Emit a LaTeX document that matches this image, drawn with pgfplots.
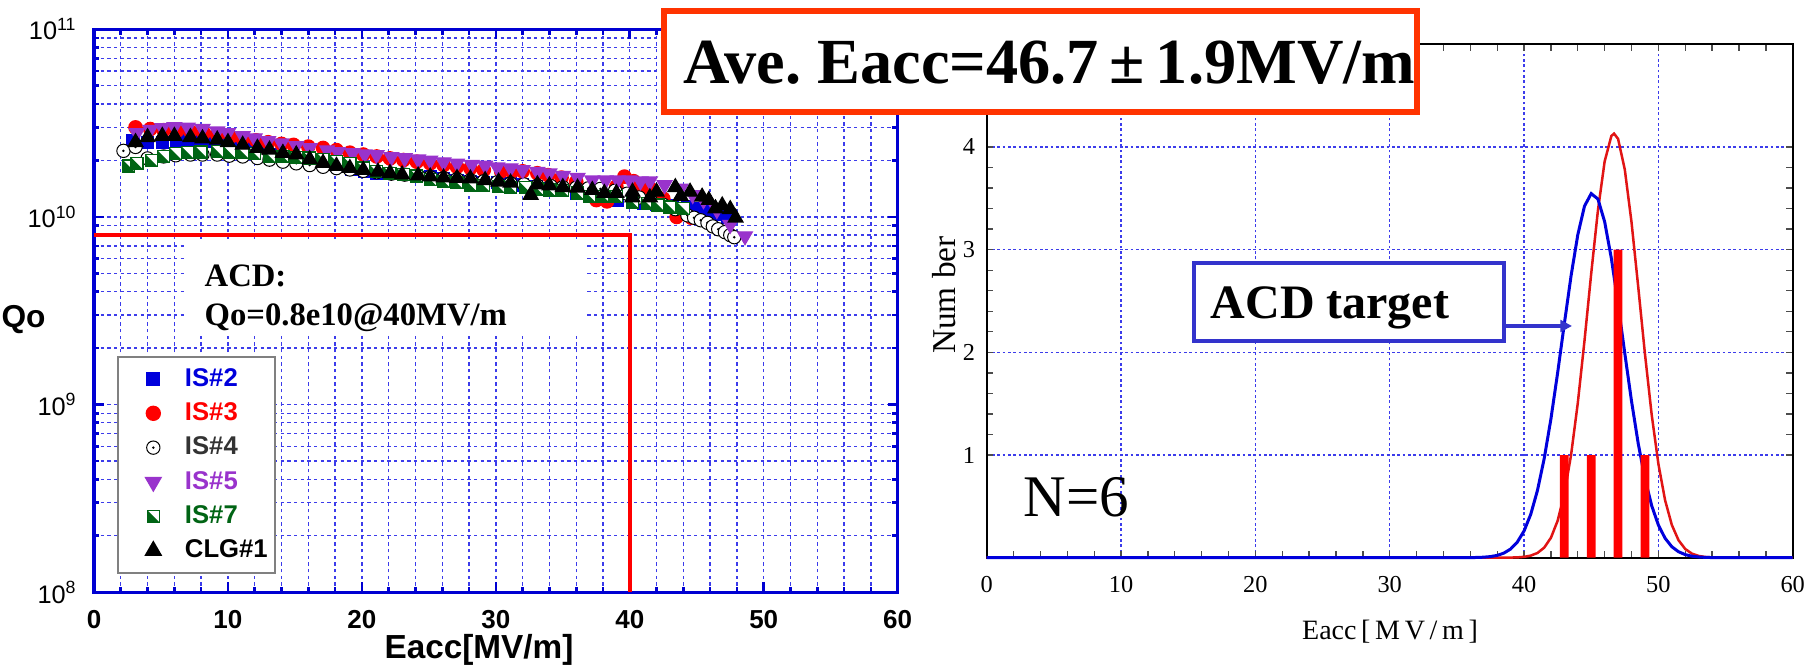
\documentclass[border=0pt]{standalone}
\usepackage{fontspec}
\setmainfont{Liberation Serif}
\newfontfamily\arial{Liberation Sans}
\usepackage{pgfplots}
\pgfplotsset{compat=1.18}
\usetikzlibrary{arrows.meta}

\definecolor{axblue}{RGB}{0,0,210}
\definecolor{gridblue}{RGB}{60,60,235}
\definecolor{is2}{RGB}{0,0,220}
\definecolor{is3}{RGB}{255,0,0}
\definecolor{is4}{RGB}{51,51,51}
\definecolor{is5}{RGB}{153,51,204}
\definecolor{is7}{RGB}{0,100,20}
\definecolor{boxred}{RGB}{255,51,0}
\definecolor{tgtblue}{RGB}{51,51,204}
\definecolor{curvered}{RGB}{225,20,20}

% open circle with a centre dot
\pgfdeclareplotmark{odot}{%
  \pgfpathcircle{\pgfpointorigin}{\pgfplotmarksize}%
  \pgfusepathqfillstroke
  \pgfpathcircle{\pgfpointorigin}{0.1\pgfplotmarksize}%
  \pgfusepathqstroke
}
% square, half filled along the diagonal
\pgfdeclareplotmark{halfsq}{%
  \pgfpathrectangle{\pgfqpoint{-\pgfplotmarksize}{-\pgfplotmarksize}}{\pgfqpoint{2\pgfplotmarksize}{2\pgfplotmarksize}}%
  \pgfusepathqfillstroke
  \pgfscope
  \pgfsetfillcolor{is7}%
  \pgfpathmoveto{\pgfqpoint{-\pgfplotmarksize}{-\pgfplotmarksize}}%
  \pgfpathlineto{\pgfqpoint{\pgfplotmarksize}{-\pgfplotmarksize}}%
  \pgfpathlineto{\pgfqpoint{-\pgfplotmarksize}{\pgfplotmarksize}}%
  \pgfpathclose
  \pgfusepathqfill
  \endpgfscope
}

\begin{document}
\begin{tikzpicture}
\useasboundingbox (0,0) rectangle (546pt,199.5pt);

%---------------- Qo vs Eacc ----------------
\begin{axis}[
  at={(28.2pt,21.81pt)}, anchor=south west,
  scale only axis, width=241.11pt, height=168.9pt,
  xmin=0, xmax=60, ymode=log, ymin=1e8, ymax=1e11,
  xtick={0,10,20,30,40,50,60},
  xticklabels={0,10,20,30,40,50,60},
  minor x tick num=4,
  ytick={1e8,1e9,1e10,1e11},
  yticklabels={10\textsuperscript{8},10\textsuperscript{9},10\textsuperscript{10},10\textsuperscript{11}},
  minor ytick={2e8,3e8,4e8,5e8,6e8,7e8,8e8,9e8,2e9,3e9,4e9,5e9,6e9,7e9,8e9,9e9,2e10,3e10,4e10,5e10,6e10,7e10,8e10,9e10},
  grid=both,
  major grid style={gridblue, line width=0.4pt, dash pattern=on 1pt off 1pt},
  minor grid style={gridblue, line width=0.4pt, dash pattern=on 1pt off 1pt},
  axis line style={axblue, line width=1pt},
  tick style={axblue, line width=0.8pt},
  major tick length=3pt, minor tick length=1.6pt,
  tick align=inside,
  xticklabel style={font=\arial\bfseries\fontsize{7.8}{9}\selectfont, yshift=-2pt},
  yticklabel style={font=\arial\fontsize{7.6}{9}\selectfont, xshift=-1.5pt},
  clip=false,
  legend cell align=left,
  legend image code/.code={%
    \path[draw=none, fill=none] (-8.5pt,0pt) -- (8.5pt,0pt);
    \draw[#1] plot coordinates {(0pt,0pt)};},
  legend style={at={(0.0286,0.4197)}, anchor=north west, draw=gray, line width=0.6pt,
    fill=white, inner xsep=2.1pt, inner ysep=3pt, row sep=3.1pt, column sep=1pt,
    font=\arial\bfseries\fontsize{7.7}{9}\selectfont,
    nodes={inner sep=0pt, text height=5.8pt, text depth=1.4pt}},
]
\addplot[forget plot, is3, line width=1.1pt] coordinates {(0,8e9) (40,8e9) (40,1e8)};

\addplot[only marks, mark=square*, mark size=1.8pt, color=is2] coordinates {
(2.9,2.55e10) (4.0,2.5e10) (5.1,2.5e10) (6.2,2.57e10) (7.2,2.57e10) (8.2,2.52e10)
(9.2,2.45e10) (10.2,2.38e10) (11.2,2.3e10) (12.2,2.22e10) (13.2,2.15e10) (14.2,2.08e10)
(15.2,2.0e10) (16.2,1.95e10) (17.2,1.9e10) (18.2,1.85e10) (19.2,1.8e10) (20.2,1.75e10)
(21.1,1.71e10) (22.1,1.7e10) (23.1,1.68e10) (24.1,1.66e10) (25.1,1.63e10) (26.1,1.6e10)
(27.1,1.57e10) (28.1,1.54e10) (29.1,1.53e10) (30.1,1.52e10) (31.1,1.5e10) (32.0,1.48e10)
(33.0,1.45e10) (34.0,1.42e10) (35.0,1.39e10) (36.0,1.34e10) (37.0,1.29e10) (38.0,1.26e10)
(39.1,1.23e10) (40.2,1.2e10) (41.0,1.18e10) (42.0,1.17e10) (43.2,1.15e10) (44.3,1.13e10)
(45.0,1.11e10) (45.9,1.07e10) (46.7,1.03e10) (47.3,1.0e10)};
\addlegendentry{\textcolor{is2}{IS\#2}}

\addplot[only marks, mark=*, mark size=2pt, color=is3] coordinates {
(3.1,3.0e10) (4.2,2.94e10) (5.2,2.9e10) (6.2,2.88e10) (7.2,2.85e10) (8.2,2.8e10)
(9.2,2.74e10) (10.2,2.68e10) (11.1,2.62e10) (12.1,2.56e10) (13.0,2.5e10) (14.0,2.45e10)
(14.9,2.42e10) (16.0,2.37e10) (17.1,2.33e10) (18.1,2.27e10) (19.1,2.2e10) (20.1,2.15e10)
(21.1,2.1e10) (22.1,2.05e10) (23.1,2.01e10) (24.1,1.97e10) (25.1,1.93e10) (26.1,1.89e10)
(27.1,1.85e10) (28.1,1.82e10) (29.1,1.78e10) (30.4,1.75e10) (31.2,1.75e10) (32.0,1.75e10)
(33.1,1.71e10) (33.9,1.67e10) (34.9,1.62e10) (36.0,1.54e10) (36.7,1.39e10) (37.5,1.23e10)
(38.3,1.21e10) (39.0,1.45e10) (39.6,1.64e10) (40.3,1.55e10) (40.9,1.43e10) (41.7,1.39e10)
(42.5,1.25e10) (43.5,1.0e10) (44.6,0.99e10)};
\addlegendentry{\textcolor{is3}{IS\#3}}

\addplot[only marks, mark=odot, mark size=2pt, mark options={draw=black, fill=white, line width=0.3pt}] coordinates {
(2.2,2.25e10) (3.1,2.36e10) (4.0,2.05e10) (5.2,2.1e10) (6.1,2.13e10) (7.2,2.15e10)
(8.1,2.15e10) (9.2,2.15e10) (10.1,2.12e10) (11.1,2.1e10) (12.2,2.06e10) (13.1,2.02e10)
(14.1,1.97e10) (15.1,1.93e10) (16.1,1.89e10) (17.1,1.85e10) (18.1,1.82e10) (19.1,1.79e10)
(20.1,1.76e10) (21.1,1.73e10) (22.2,1.7e10) (23.2,1.68e10) (24.2,1.66e10) (25.1,1.63e10)
(26.1,1.61e10) (27.1,1.59e10) (28.1,1.57e10) (29.1,1.55e10) (30.1,1.53e10) (31.1,1.51e10)
(32.1,1.49e10) (33.1,1.47e10) (34.1,1.46e10) (35.0,1.44e10) (36.0,1.43e10) (36.9,1.42e10)
(37.8,1.41e10) (38.9,1.38e10) (39.8,1.33e10) (40.7,1.27e10) (41.6,1.21e10) (42.5,1.16e10)
(43.4,1.1e10) (44.3,1.02e10) (44.8,0.99e10) (45.3,0.96e10) (45.8,0.93e10) (46.2,0.89e10)
(46.6,0.86e10) (47.1,0.83e10) (47.5,0.8e10) (47.8,0.78e10)};
\addlegendentry{\textcolor{is4}{IS\#4}}

\addplot[only marks, mark=triangle*, mark size=2.5pt, color=is5, mark options={rotate=180}] coordinates {
(3.2,2.8e10) (4.2,2.92e10) (5.1,2.98e10) (6.0,3.02e10) (7.0,3.0e10) (8.1,2.95e10)
(9.2,2.86e10) (10.0,2.8e10) (11.1,2.7e10) (12.0,2.63e10) (13.0,2.54e10) (14.0,2.47e10)
(15.1,2.39e10) (16.1,2.33e10) (17.4,2.27e10) (18.2,2.22e10) (19.3,2.19e10) (20.2,2.16e10)
(21.1,2.14e10) (22.2,2.09e10) (23.2,2.06e10) (24.2,2.03e10) (25.1,2.0e10) (26.1,1.96e10)
(27.1,1.93e10) (28.2,1.9e10) (29.2,1.88e10) (30.1,1.84e10) (31.1,1.82e10) (32.0,1.78e10)
(33.1,1.74e10) (34.0,1.71e10) (35.0,1.66e10) (36.1,1.62e10) (37.2,1.57e10) (38.2,1.57e10)
(39.1,1.57e10) (40.0,1.57e10) (40.8,1.55e10) (41.5,1.55e10) (42.6,1.48e10) (43.8,1.42e10)
(44.7,1.31e10) (45.5,1.23e10) (46.5,1.09e10) (47.5,0.91e10) (48.6,0.79e10)};
\addlegendentry{\textcolor{is5}{IS\#5}}

\addplot[only marks, mark=halfsq, mark size=1.8pt, mark options={draw=is7, fill=white, line width=0.4pt}] coordinates {
(2.6,1.87e10) (3.2,1.93e10) (4.3,2.0e10) (5.2,2.1e10) (6.1,2.17e10) (7.0,2.2e10)
(8.0,2.22e10) (9.2,2.24e10) (10.1,2.22e10) (11.1,2.2e10) (12.0,2.17e10) (13.1,2.1e10)
(14.1,2.1e10) (15.1,2.08e10) (16.1,2.06e10) (17.1,2.03e10) (18.1,1.97e10) (19.1,1.93e10)
(20.1,1.82e10) (21.1,1.74e10) (22.1,1.71e10) (23.1,1.68e10) (24.1,1.65e10) (25.1,1.58e10)
(26.1,1.55e10) (27.1,1.52e10) (28.1,1.48e10) (29.1,1.47e10) (30.2,1.45e10) (31.1,1.44e10)
(32.2,1.43e10) (33.1,1.41e10) (34.0,1.39e10) (35.0,1.38e10) (36.1,1.34e10) (37.0,1.29e10)
(38.0,1.29e10) (39.0,1.28e10) (40.2,1.2e10) (41.3,1.18e10) (42.1,1.16e10) (43.0,1.13e10)
(44.0,1.11e10)};
\addlegendentry{\textcolor{is7}{IS\#7}}

\addplot[only marks, mark=triangle*, mark size=2.5pt, color=black] coordinates {
(3.1,2.5e10) (4.0,2.66e10) (5.1,2.7e10) (6.0,2.7e10) (7.2,2.66e10) (8.1,2.62e10)
(9.2,2.58e10) (10.0,2.5e10) (11.1,2.42e10) (12.2,2.33e10) (13.1,2.28e10) (14.1,2.19e10)
(15.1,2.15e10) (16.1,2.03e10) (17.1,1.94e10) (18.1,1.87e10) (19.1,1.82e10) (20.1,1.78e10)
(21.2,1.74e10) (22.1,1.71e10) (23.0,1.68e10) (24.2,1.66e10) (25.1,1.64e10) (26.1,1.62e10)
(27.1,1.61e10) (28.1,1.6e10) (29.2,1.57e10) (30.2,1.54e10) (31.1,1.52e10) (32.6,1.31e10)
(33.1,1.49e10) (34.0,1.47e10) (35.0,1.44e10) (36.1,1.43e10) (37.2,1.39e10) (38.1,1.34e10)
(39.0,1.34e10) (40.2,1.36e10) (40.2,1.27e10) (41.5,1.27e10) (42.0,1.36e10) (43.4,1.44e10)
(43.8,1.29e10) (44.5,1.36e10) (45.4,1.28e10) (45.9,1.23e10) (46.4,1.11e10) (46.9,1.15e10)
(47.5,1.1e10) (47.9,0.99e10)};
\addlegendentry{CLG\#1}
\end{axis}

% labels and note of the left panel
\node[font=\arial\bfseries\fontsize{9.5}{11}\selectfont, anchor=base, inner sep=0pt] at (7.05pt,101.3pt) {Qo};
\node[font=\arial\bfseries\fontsize{10}{12}\selectfont, anchor=base, inner sep=0pt] at (143.7pt,2pt) {Eacc[MV/m]};
\fill[white] (55.5pt,99pt) rectangle (176.1pt,127.5pt);
\node[font=\bfseries\fontsize{9.8}{11}\selectfont, anchor=base west, inner sep=0pt] at (61.2pt,113.6pt) {ACD:};
\node[font=\bfseries\fontsize{9.8}{11}\selectfont, anchor=base west, inner sep=0pt] at (61.2pt,101.9pt) {Qo=0.8e10@40MV/m};

%---------------- distribution ----------------
\begin{axis}[
  at={(296.01pt,32.19pt)}, anchor=south west,
  scale only axis, width=241.8pt, height=154.02pt,
  xmin=0, xmax=60, ymin=0, ymax=5,
  xtick={0,10,20,30,40,50,60},
  xticklabels={0,10,20,30,40,50,60},
  minor x tick num=4,
  ytick={1,2,3,4}, yticklabels={1,2,3,4},
  minor y tick num=4,
  grid=major,
  major grid style={gridblue, line width=0.4pt, dash pattern=on 0.8pt off 0.8pt},
  axis line style={black, line width=0.6pt},
  tick style={black!70, line width=0.4pt},
  major tick length=2pt, minor tick length=2pt,
  tick align=inside,
  ticklabel style={font=\fontsize{7.3}{9}\selectfont},
  xticklabel style={yshift=-2.2pt},
  clip=false,
]
\addplot[curvered, line width=0.75pt] coordinates {
(0,0) (38,0.0001) (38.5,0.0004) (39,0.0011) (39.5,0.0031) (40,0.0082) (40.5,0.0201)
(41,0.0459) (41.5,0.0976) (42,0.194) (42.5,0.359) (43,0.620) (43.5,1.000) (44,1.505)
(44.5,2.113) (45,2.768) (45.5,3.383) (46,3.859) (46.5,4.107) (46.7,4.13) (47,4.079)
(47.5,3.780) (48,3.268) (48.5,2.637) (49,1.985) (49.5,1.394) (50,0.914) (50.5,0.559)
(51,0.319) (51.5,0.170) (52,0.0844) (52.5,0.0391) (53,0.0169) (53.5,0.0068) (54,0.0027)
(54.5,0.0009) (60,0)};
\addplot[is2, line width=0.9pt] coordinates {
(0,0) (36,0.0009) (36.5,0.0021) (37,0.0049) (37.5,0.0107) (38,0.0224) (38.5,0.0446)
(39,0.0844) (39.5,0.152) (40,0.260) (40.5,0.423) (41,0.656) (41.5,0.965) (42,1.351)
(42.5,1.800) (43,2.279) (43.5,2.745) (44,3.144) (44.5,3.424) (45,3.546) (45.5,3.493)
(46,3.272) (46.5,2.915) (47,2.470) (47.5,1.990) (48,1.525) (48.5,1.111) (49,0.770)
(49.5,0.507) (50,0.318) (50.5,0.189) (51,0.107) (51.5,0.0579) (52,0.0297) (52.5,0.0145)
(53,0.0067) (53.5,0.0030) (54,0.0012) (60,0)};
\addplot[ybar, bar width=0.65, fill=is3, draw=none] coordinates {(43,1) (45,1) (47,3) (49,1)};
\end{axis}

\node[font=\fontsize{10}{11}\selectfont, rotate=90, anchor=base, inner sep=0pt] at (286.5pt,111pt) {Num ber};
\node[font=\fontsize{8.4}{10}\selectfont, anchor=base, inner sep=0pt] at (417pt,7.56pt) {Eacc\,[\,M\,V\,/\,m\,]};
\node[font=\fontsize{17.7}{20}\selectfont, anchor=base west, inner sep=0pt] at (306.9pt,44.55pt) {N=6};

\draw[tgtblue, line width=1.05pt, fill=white] (358.2pt,97.2pt) rectangle (451.2pt,120.6pt);
\node[font=\bfseries\fontsize{14.4}{16}\selectfont, anchor=base, inner sep=0pt] at (399pt,103.8pt) {ACD target};
\draw[tgtblue, line width=1pt, -{Triangle[length=3.5pt,width=3.5pt]}] (451.5pt,101.7pt) -- (471.6pt,101.7pt);

% headline box
\draw[boxred, line width=1.8pt, fill=white] (199.2pt,165.9pt) rectangle (425.1pt,196.2pt);
\node[font=\bfseries\fontsize{19.3}{22}\selectfont, anchor=base, inner sep=0pt] at (314.7pt,174.5pt) {Ave.\ Eacc=46.7\,±\,1.9MV/m};
\end{tikzpicture}
\end{document}
